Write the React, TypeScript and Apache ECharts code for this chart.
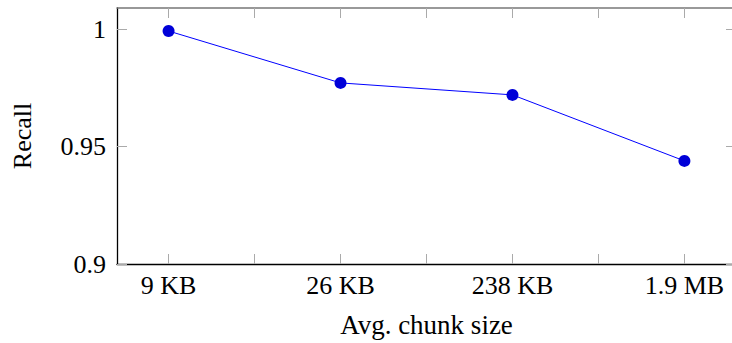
import React, { useEffect, useRef } from "react";
import * as echarts from "echarts";

const categories = ["9 KB", "26 KB", "238 KB", "1.9 MB"];
const recall = [0.9992, 0.9771, 0.972, 0.9439];
const yTicks = [0.9, 0.95, 1];
const xTicks = [0, 0.5, 1, 1.5, 2, 2.5, 3];
const xLabelPositions = [0, 1, 2, 3];

export default function App() {
  const ref = useRef<HTMLDivElement>(null);
  useEffect(() => {
    if (!ref.current) return;
    const chart = echarts.init(ref.current, null, { renderer: "svg" });
    const font = "Liberation Serif";
    const fs = 26;
    const tickStyle = { show: true, inside: true, length: 10, lineStyle: { color: "#aaaaaa", width: 1 } };
    chart.setOption({
      animation: false,
      backgroundColor: "#ffffff",
      grid: { left: 117, right: 4, top: 8, bottom: 76, containLabel: false },
      xAxis: [
        {
          type: "value",
          position: "bottom",
          min: -0.3,
          max: 3.3,
          name: "Avg. chunk size",
          nameLocation: "middle",
          nameGap: 47,
          nameTextStyle: { fontFamily: font, fontSize: 27, color: "#000" },
          axisLine: { show: true, onZero: false, lineStyle: { color: "#000", width: 1.3 } },
          axisTick: { ...tickStyle, customValues: xTicks },
          axisLabel: {
            customValues: xLabelPositions,
            formatter: (v: number) => categories[Math.round(v)] ?? "",
            fontFamily: font,
            fontSize: fs,
            color: "#000",
            margin: 8,
          },
          splitLine: { show: false },
        },
        {
          type: "value",
          position: "top",
          min: -0.3,
          max: 3.3,
          axisLine: { show: true, onZero: false, lineStyle: { color: "#777", width: 1.5 } },
          axisTick: { ...tickStyle, customValues: xTicks },
          axisLabel: { show: false },
          splitLine: { show: false },
        },
      ],
      yAxis: [
        {
          type: "value",
          position: "left",
          min: 0.9,
          max: 1.009,
          name: "Recall",
          nameLocation: "middle",
          nameGap: 82,
          nameRotate: 90,
          nameTextStyle: { fontFamily: font, fontSize: fs, color: "#000" },
          axisLine: { show: true, onZero: false, lineStyle: { color: "#000", width: 1.3 } },
          axisTick: { ...tickStyle, customValues: yTicks },
          axisLabel: {
            customValues: yTicks,
            formatter: (v: number) => String(+v.toFixed(2)),
            fontFamily: font,
            fontSize: fs,
            color: "#000",
            margin: 11,
          },
          splitLine: { show: false },
        },
        {
          type: "value",
          position: "right",
          min: 0.9,
          max: 1.009,
          axisLine: { show: true, onZero: false, lineStyle: { color: "#777", width: 1.3 } },
          axisTick: { ...tickStyle, customValues: yTicks },
          axisLabel: { show: false },
          splitLine: { show: false },
        },
      ],
      series: [
        {
          type: "line",
          xAxisIndex: 0,
          yAxisIndex: 0,
          data: recall.map((v, i) => [i, v]),
          symbol: "circle",
          symbolSize: 12,
          lineStyle: { color: "#0000ff", width: 1 },
          itemStyle: { color: "#0000d8" },
        },
      ],
    });
    return () => chart.dispose();
  }, []);
  return (
    <div style={{ width: 732, height: 343, position: "absolute", left: 0, top: 0, overflow: "hidden" }}>
      <div ref={ref} style={{ width: 740, height: 343 }} />
    </div>
  );
}
